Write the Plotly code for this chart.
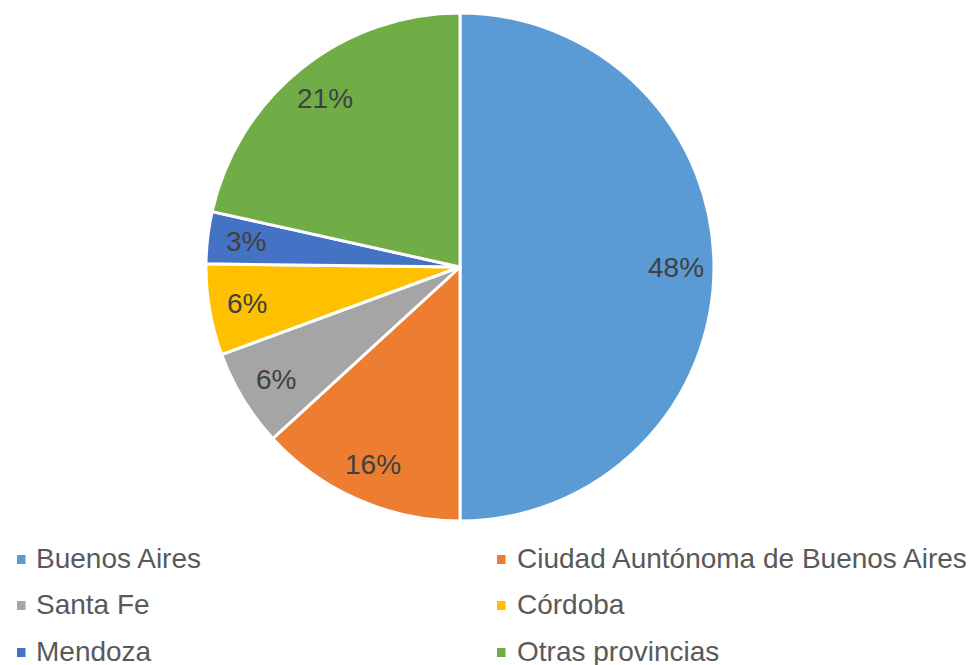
import math
import plotly.graph_objects as go

# ---- data ----
provinces = ["Buenos Aires", "Ciudad Auntónoma de Buenos Aires", "Santa Fe",
             "Córdoba", "Mendoza", "Otras provincias"]
shares = [50.0, 13.2, 6.2, 5.8, 3.3, 21.5]          # slice sizes as drawn
pct_labels = ["48%", "16%", "6%", "6%", "3%", "21%"]  # printed data labels
colors = ["#5B9BD5", "#ED7D31", "#A5A5A5", "#FFC000", "#4472C4", "#70AD47"]

W, H = 974, 665
CX, CY, R = 460, 267, 254   # pie centre / radius in px

fig = go.Figure(go.Pie(
    labels=provinces, values=shares, sort=False, direction="clockwise",
    rotation=0, textinfo="none", hoverinfo="label+percent",
    marker=dict(colors=colors, line=dict(color="white", width=3)),
    domain=dict(x=[(CX - R) / W, (CX + R) / W],
                y=[1 - (CY + R) / H, 1 - (CY - R) / H]),
    showlegend=False,
))

annotations = []
shapes = []
total = sum(shares)
cum = 0.0
for v, lab in zip(shares, pct_labels):
    mid = (cum + v / 2) / total * 2 * math.pi
    cum += v
    rr = 0.85 * R
    px = CX + rr * math.sin(mid)
    py = CY - rr * math.cos(mid)
    annotations.append(dict(x=px / W, y=1 - py / H, xref="paper", yref="paper",
                            text=lab, showarrow=False, xanchor="center", yanchor="middle",
                            font=dict(family="Liberation Sans, Arial", size=28, color="#404040")))

# legend (two columns, three rows)
row_y = [559.5, 605.5, 652.5]
col_marker = [17, 497]
col_text = [36, 517]
for i, (name, c) in enumerate(zip(provinces, colors)):
    row, col = divmod(i, 2)
    y = row_y[row]
    shapes.append(dict(type="rect", xref="paper", yref="paper",
                       x0=col_marker[col] / W, x1=(col_marker[col] + 8.5) / W,
                       y0=1 - (y + 4.5) / H, y1=1 - (y - 4.5) / H,
                       fillcolor=c, line=dict(width=0)))
    annotations.append(dict(x=col_text[col] / W, y=1 - (y - 1.5) / H, xref="paper", yref="paper",
                            text=name, showarrow=False, xanchor="left", yanchor="middle",
                            xshift=-2,
                            font=dict(family="Liberation Sans, Arial", size=28, color="#595959")))

fig.update_layout(width=W, height=H, margin=dict(l=0, r=0, t=0, b=0),
                  paper_bgcolor="white", plot_bgcolor="white",
                  annotations=annotations, shapes=shapes)

fig.write_html("out.html", config={"displayModeBar": False},
               post_script="document.body.style.margin='0px';")
